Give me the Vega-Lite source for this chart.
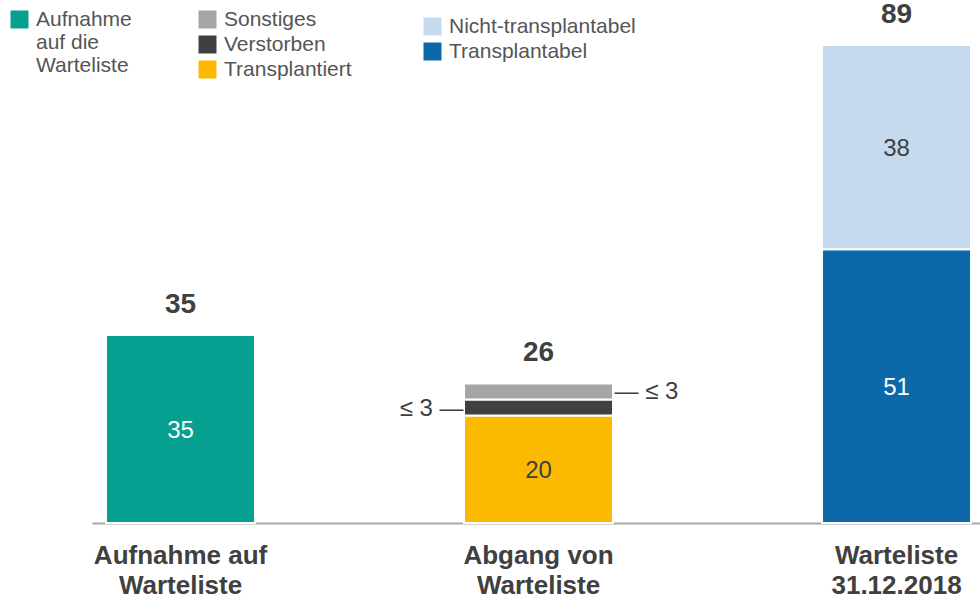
{
  "$schema": "https://vega.github.io/schema/vega-lite/v6.json",
  "width": 888,
  "height": 523,
  "autosize": "none",
  "padding": {"left": 92, "top": 0, "right": 0, "bottom": 79},
  "background": "white",
  "config": {
    "view": {"stroke": null},
    "font": "Liberation Sans",
    "legend": {
      "padding": 0,
      "title": null,
      "symbolType": "square",
      "symbolSize": 324,
      "symbolStrokeWidth": 0,
      "labelFont": "Liberation Sans",
      "labelFontSize": 21,
      "labelColor": "#555555",
      "labelOffset": 6,
      "rowPadding": 3,
      "labelLimit": 400
    }
  },
  "data": {
    "values": [
      {"cat": "Aufnahme auf Warteliste", "seg": "Aufnahme auf die Warteliste", "value": 35, "order": 1, "label": "35", "place": "inside"},
      {"cat": "Abgang von Warteliste", "seg": "Transplantiert", "value": 20, "order": 1, "label": "20", "place": "inside"},
      {"cat": "Abgang von Warteliste", "seg": "Verstorben", "value": 3, "order": 2, "label": "≤ 3 —", "place": "left"},
      {"cat": "Abgang von Warteliste", "seg": "Sonstiges", "value": 3, "order": 3, "label": "— ≤ 3", "place": "right"},
      {"cat": "Warteliste 31.12.2018", "seg": "Transplantabel", "value": 51, "order": 1, "label": "51", "place": "inside"},
      {"cat": "Warteliste 31.12.2018", "seg": "Nicht-transplantabel", "value": 38, "order": 2, "label": "38", "place": "inside"}
    ]
  },
  "encoding": {
    "x": {
      "field": "cat",
      "type": "nominal",
      "sort": ["Aufnahme auf Warteliste", "Abgang von Warteliste", "Warteliste 31.12.2018"],
      "scale": {"paddingInner": 0.5838, "paddingOuter": 0.0321, "align": 0.61},
      "axis": {
        "title": null,
        "domain": true,
        "domainColor": "#a6a6a6",
        "domainWidth": 2,
        "ticks": false,
        "tickSize": 0,
        "grid": false,
        "labelAngle": 0,
        "labelFont": "Liberation Sans",
        "labelFontSize": 26,
        "labelFontWeight": "bold",
        "labelColor": "#404040",
        "labelLineHeight": 30,
        "labelBaseline": "top",
        "labelPadding": 19,
        "labelOverlap": false,
        "labelLimit": 400,
        "labelExpr": "datum.label == 'Aufnahme auf Warteliste' ? ['Aufnahme auf', 'Warteliste'] : datum.label == 'Abgang von Warteliste' ? ['Abgang von', 'Warteliste'] : ['Warteliste', '31.12.2018']"
      }
    }
  },
  "layer": [
    {
      "transform": [{"filter": "datum.cat == 'Aufnahme auf Warteliste'"}],
      "mark": {"type": "bar", "stroke": "white", "strokeWidth": 2},
      "encoding": {
        "y": {"field": "value", "type": "quantitative", "scale": {"domain": [0, 97.4], "nice": false}, "axis": null},
        "order": {"field": "order"},
        "color": {
          "field": "seg", "type": "nominal",
          "scale": {"domain": ["Aufnahme auf die Warteliste"], "range": ["#05A08F"]},
          "legend": {
            "orient": "none", "legendX": -83, "legendY": -2,
            "symbolType": "M -1 0.22 H 1 V 2.22 H -1 Z",
            "labelExpr": "['Aufnahme', 'auf die', 'Warteliste']",
            "labelBaseline": "top"
          }
        }
      }
    },
    {
      "transform": [{"filter": "datum.cat == 'Abgang von Warteliste'"}],
      "mark": {"type": "bar", "stroke": "white", "strokeWidth": 2},
      "encoding": {
        "y": {"field": "value", "type": "quantitative", "scale": {"domain": [0, 97.4], "nice": false}, "axis": null},
        "order": {"field": "order"},
        "color": {
          "field": "seg", "type": "nominal",
          "scale": {"domain": ["Sonstiges", "Verstorben", "Transplantiert"], "range": ["#A6A6A6", "#404040", "#FBBA00"]},
          "legend": {"orient": "none", "legendX": 105, "legendY": 9}
        }
      }
    },
    {
      "transform": [{"filter": "datum.cat == 'Warteliste 31.12.2018'"}],
      "mark": {"type": "bar", "stroke": "white", "strokeWidth": 2},
      "encoding": {
        "y": {"field": "value", "type": "quantitative", "scale": {"domain": [0, 97.4], "nice": false}, "axis": null},
        "order": {"field": "order"},
        "color": {
          "field": "seg", "type": "nominal",
          "scale": {"domain": ["Nicht-transplantabel", "Transplantabel"], "range": ["#C5DAEF", "#0C68A9"]},
          "legend": {"orient": "none", "legendX": 330, "legendY": 16}
        }
      }
    },
    {
      "transform": [
        {"stack": "value", "groupby": ["cat"], "sort": [{"field": "order", "order": "ascending"}], "as": ["v0", "v1"]},
        {"fold": ["v0", "v1"], "as": ["edge", "pos"]},
        {"filter": "datum.place == 'inside'"}
      ],
      "mark": {"type": "text", "fontSize": 24, "baseline": "middle", "align": "center", "dy": 2},
      "encoding": {
        "y": {"field": "pos", "aggregate": "mean", "type": "quantitative"},
        "detail": {"field": "seg", "type": "nominal"},
        "text": {"field": "label", "type": "nominal"},
        "color": {
          "condition": {"test": "datum.seg == 'Transplantiert' || datum.seg == 'Nicht-transplantabel'", "value": "#404040"},
          "value": "#ffffff"
        }
      }
    },
    {
      "transform": [
        {"stack": "value", "groupby": ["cat"], "sort": [{"field": "order", "order": "ascending"}], "as": ["v0", "v1"]},
        {"fold": ["v0", "v1"], "as": ["edge", "pos"]},
        {"filter": "datum.place == 'left'"}
      ],
      "mark": {"type": "text", "fontSize": 24, "baseline": "middle", "align": "right", "dx": -75, "dy": 1, "color": "#404040"},
      "encoding": {
        "y": {"field": "pos", "aggregate": "mean", "type": "quantitative"},
        "detail": {"field": "seg", "type": "nominal"},
        "text": {"field": "label", "type": "nominal"}
      }
    },
    {
      "transform": [
        {"stack": "value", "groupby": ["cat"], "sort": [{"field": "order", "order": "ascending"}], "as": ["v0", "v1"]},
        {"fold": ["v0", "v1"], "as": ["edge", "pos"]},
        {"filter": "datum.place == 'right'"}
      ],
      "mark": {"type": "text", "fontSize": 24, "baseline": "middle", "align": "left", "dx": 76, "dy": 1, "color": "#404040"},
      "encoding": {
        "y": {"field": "pos", "aggregate": "mean", "type": "quantitative"},
        "detail": {"field": "seg", "type": "nominal"},
        "text": {"field": "label", "type": "nominal"}
      }
    },
    {
      "mark": {"type": "text", "fontSize": 28, "fontWeight": "bold", "baseline": "alphabetic", "align": "center", "dy": -22, "color": "#404040"},
      "encoding": {
        "y": {"field": "value", "aggregate": "sum", "type": "quantitative"},
        "text": {"field": "value", "aggregate": "sum", "type": "quantitative"}
      }
    }
  ],
  "resolve": {"scale": {"color": "independent"}}
}
